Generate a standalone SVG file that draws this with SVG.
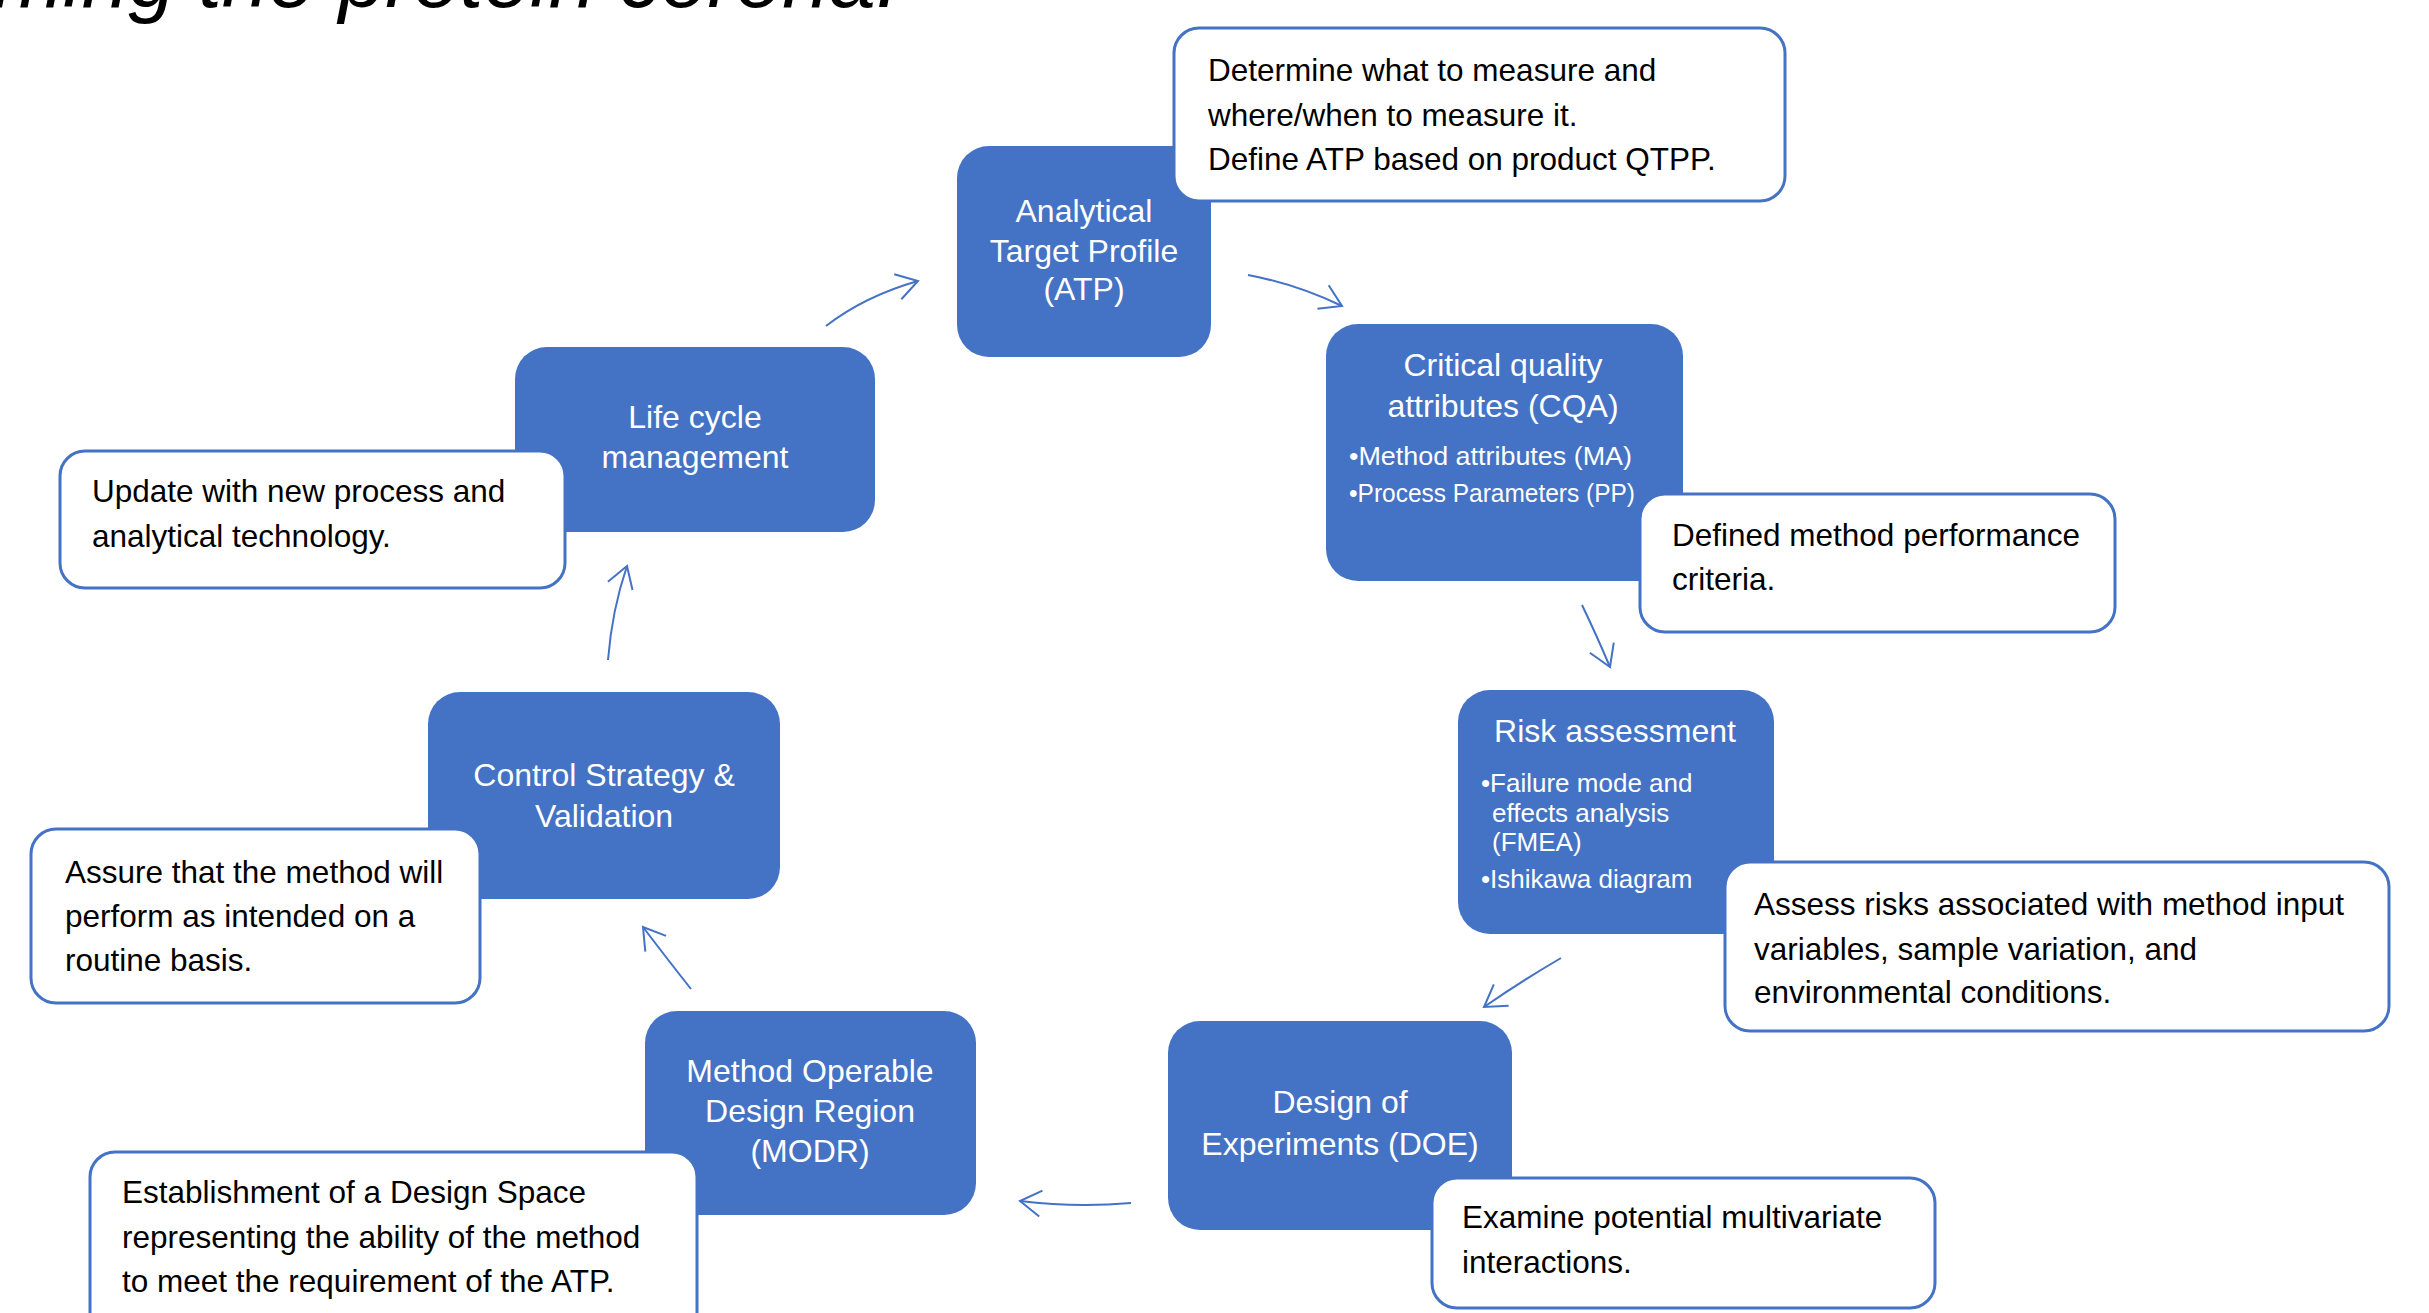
<svg xmlns="http://www.w3.org/2000/svg" width="2429" height="1313" viewBox="0 0 2429 1313">
<defs>
<style>
.box{fill:#4472C4;}
.call{fill:#FFFFFF;stroke:#4472C4;stroke-width:3;}
.wt{fill:#FFFFFF;font-family:"Liberation Sans",Arial,sans-serif;font-size:32px;text-anchor:middle;}
.bt{fill:#FFFFFF;font-family:"Liberation Sans",Arial,sans-serif;font-size:26px;}
.ct{fill:#000000;font-family:"Liberation Sans",Arial,sans-serif;font-size:31.5px;}
.title{fill:#000000;font-family:"Liberation Sans",Arial,sans-serif;font-style:italic;font-size:84px;text-anchor:end;}
.arr{fill:none;stroke:#4472C4;stroke-width:2;marker-end:url(#head);}
</style>
<marker id="head" markerUnits="userSpaceOnUse" markerWidth="30" markerHeight="30" refX="0" refY="0" viewBox="-26 -15 30 30" orient="auto" overflow="visible">
<path d="M-21,-13 L0,0 L-21,13" fill="none" stroke="#4472C4" stroke-width="2"/>
</marker>
</defs>
<rect width="2429" height="1313" fill="#FFFFFF"/>
<text class="title" x="899" y="7">ming the protein corona.</text>

<g id="connectors">
<path class="arr" d="M826,326 Q865,296 918,281"/>
<path class="arr" d="M1248,275 Q1296,284 1342,306"/>
<path class="arr" d="M1582,605 Q1596,634 1610,667"/>
<path class="arr" d="M1561,958 Q1520,982 1484,1007"/>
<path class="arr" d="M1131,1203 Q1076,1208 1020,1201"/>
<path class="arr" d="M691,989 Q668,960 643,927"/>
<path class="arr" d="M608,660 Q612,610 627,566"/>
</g>

<g id="atp">
<rect class="box" x="957" y="146" width="254" height="211" rx="32"/>
<text class="wt" x="1084" y="222">Analytical</text>
<text class="wt" x="1084" y="262">Target Profile</text>
<text class="wt" x="1084" y="300">(ATP)</text>
</g>
<g id="atp-note">
<rect class="call" x="1174" y="28" width="611" height="173" rx="25"/>
<text class="ct" x="1208" y="81">Determine what to measure and</text>
<text class="ct" x="1208" y="126">where/when to measure it.</text>
<text class="ct" x="1208" y="170">Define ATP based on product QTPP.</text>
</g>

<g id="cqa">
<rect class="box" x="1326" y="324" width="357" height="257" rx="32"/>
<text class="wt" x="1503" y="376">Critical quality</text>
<text class="wt" x="1503" y="417">attributes (CQA)</text>
<text class="bt" x="1349" y="465" textLength="283" lengthAdjust="spacingAndGlyphs">•Method attributes (MA)</text>
<text class="bt" x="1349" y="502" textLength="286" lengthAdjust="spacingAndGlyphs">•Process Parameters (PP)</text>
</g>
<g id="cqa-note">
<rect class="call" x="1640" y="494" width="475" height="138" rx="25"/>
<text class="ct" x="1672" y="546">Defined method performance</text>
<text class="ct" x="1672" y="590">criteria.</text>
</g>

<g id="risk">
<rect class="box" x="1458" y="690" width="316" height="244" rx="32"/>
<text class="wt" x="1615" y="742">Risk assessment</text>
<text class="bt" x="1481" y="792">•Failure mode and</text>
<text class="bt" x="1492" y="822">effects analysis</text>
<text class="bt" x="1492" y="851">(FMEA)</text>
<text class="bt" x="1481" y="888">•Ishikawa diagram</text>
</g>
<g id="risk-note">
<rect class="call" x="1725" y="862" width="664" height="169" rx="25"/>
<text class="ct" x="1754" y="915">Assess risks associated with method input</text>
<text class="ct" x="1754" y="960">variables, sample variation, and</text>
<text class="ct" x="1754" y="1003">environmental conditions.</text>
</g>

<g id="doe">
<rect class="box" x="1168" y="1021" width="344" height="209" rx="32"/>
<text class="wt" x="1340" y="1113">Design of</text>
<text class="wt" x="1340" y="1155">Experiments (DOE)</text>
</g>
<g id="doe-note">
<rect class="call" x="1432" y="1178" width="503" height="130" rx="25"/>
<text class="ct" x="1462" y="1228">Examine potential multivariate</text>
<text class="ct" x="1462" y="1273">interactions.</text>
</g>

<g id="modr">
<rect class="box" x="645" y="1011" width="331" height="204" rx="32"/>
<text class="wt" x="810" y="1082">Method Operable</text>
<text class="wt" x="810" y="1122">Design Region</text>
<text class="wt" x="810" y="1162">(MODR)</text>
</g>
<g id="modr-note">
<rect class="call" x="90" y="1152" width="607" height="200" rx="25"/>
<text class="ct" x="122" y="1203">Establishment of a Design Space</text>
<text class="ct" x="122" y="1248">representing the ability of the method</text>
<text class="ct" x="122" y="1292">to meet the requirement of the ATP.</text>
</g>

<g id="control">
<rect class="box" x="428" y="692" width="352" height="207" rx="32"/>
<text class="wt" x="604" y="786">Control Strategy &amp;</text>
<text class="wt" x="604" y="827">Validation</text>
</g>
<g id="control-note">
<rect class="call" x="31" y="829" width="449" height="174" rx="25"/>
<text class="ct" x="65" y="883">Assure that the method will</text>
<text class="ct" x="65" y="927">perform as intended on a</text>
<text class="ct" x="65" y="971">routine basis.</text>
</g>

<g id="lifecycle">
<rect class="box" x="515" y="347" width="360" height="185" rx="32"/>
<text class="wt" x="695" y="428">Life cycle</text>
<text class="wt" x="695" y="468">management</text>
</g>
<g id="lifecycle-note">
<rect class="call" x="60" y="451" width="505" height="137" rx="25"/>
<text class="ct" x="92" y="502">Update with new process and</text>
<text class="ct" x="92" y="547">analytical technology.</text>
</g>
</svg>
